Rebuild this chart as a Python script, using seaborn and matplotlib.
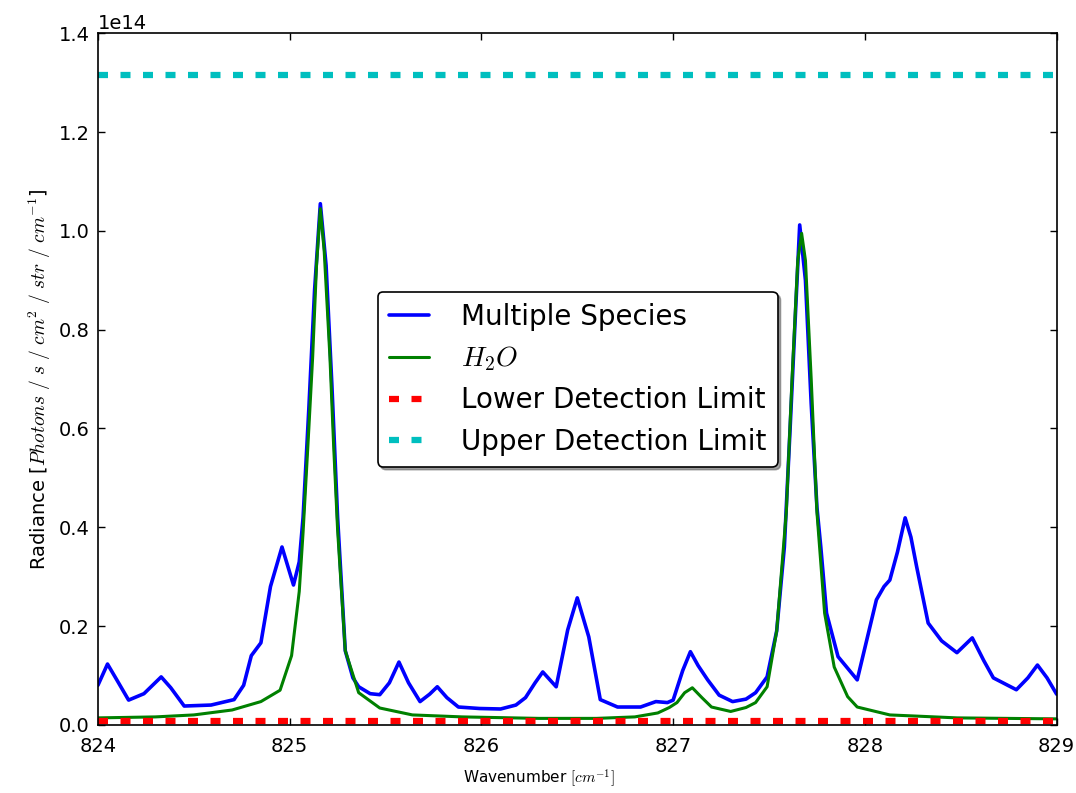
import numpy as np
import pandas as pd
import matplotlib
matplotlib.use("Agg")
import matplotlib.pyplot as plt
import seaborn as sns

# wavenumber [cm^-1] and radiance [1e14 photons/s/cm^2/str/cm^-1]
multi_wn = [824.00, 824.05, 824.10, 824.16, 824.24, 824.33, 824.38, 824.45, 824.59, 824.71,
            824.76, 824.80, 824.85, 824.90, 824.96, 825.02, 825.05, 825.07, 825.10, 825.13,
            825.16, 825.19, 825.22, 825.25, 825.29, 825.33, 825.36, 825.42, 825.47, 825.52,
            825.57, 825.62, 825.68, 825.73, 825.77, 825.82, 825.88, 825.99, 826.10, 826.18,
            826.23, 826.28, 826.32, 826.39, 826.45, 826.50, 826.56, 826.62, 826.71, 826.83,
            826.91, 826.97, 827.00, 827.05, 827.09, 827.13, 827.18, 827.24, 827.31, 827.38,
            827.43, 827.49, 827.54, 827.58, 827.61, 827.64, 827.66, 827.69, 827.72, 827.75,
            827.77, 827.80, 827.86, 827.96, 828.01, 828.06, 828.10, 828.13, 828.17, 828.21,
            828.24, 828.27, 828.33, 828.40, 828.48, 828.56, 828.62, 828.67, 828.79, 828.85,
            828.90, 828.95, 829.00]
multi_rad = [0.080, 0.123, 0.090, 0.050, 0.063, 0.097, 0.075, 0.038, 0.040, 0.051,
             0.080, 0.140, 0.166, 0.280, 0.360, 0.283, 0.330, 0.420, 0.640, 0.880,
             1.055, 0.930, 0.690, 0.420, 0.150, 0.095, 0.077, 0.063, 0.061, 0.085,
             0.127, 0.085, 0.047, 0.062, 0.077, 0.055, 0.036, 0.033, 0.032, 0.040,
             0.055, 0.085, 0.107, 0.077, 0.192, 0.257, 0.178, 0.051, 0.036, 0.036,
             0.047, 0.045, 0.050, 0.110, 0.148, 0.120, 0.091, 0.060, 0.047, 0.052,
             0.065, 0.097, 0.190, 0.360, 0.600, 0.850, 1.012, 0.900, 0.650, 0.440,
             0.360, 0.226, 0.138, 0.091, 0.172, 0.253, 0.280, 0.293, 0.350, 0.419,
             0.380, 0.320, 0.206, 0.170, 0.146, 0.176, 0.130, 0.095, 0.071, 0.095,
             0.121, 0.095, 0.062]

h2o_wn = [824.00, 824.30, 824.50, 824.70, 824.85, 824.95, 825.01, 825.05, 825.07, 825.10,
          825.12, 825.14, 825.16, 825.18, 825.21, 825.23, 825.25, 825.29, 825.36, 825.47,
          825.64, 825.90, 826.30, 826.60, 826.80, 826.92, 826.98, 827.02, 827.06, 827.10,
          827.15, 827.20, 827.30, 827.38, 827.43, 827.49, 827.54, 827.59, 827.62, 827.65,
          827.67, 827.69, 827.72, 827.75, 827.79, 827.84, 827.91, 827.96, 828.13, 828.48,
          829.00]
h2o_rad = [0.014, 0.016, 0.020, 0.030, 0.047, 0.070, 0.140, 0.270, 0.390, 0.600,
           0.745, 0.930, 1.045, 0.960, 0.745, 0.560, 0.395, 0.150, 0.065, 0.034,
           0.020, 0.016, 0.013, 0.013, 0.016, 0.024, 0.035, 0.045, 0.065, 0.075,
           0.055, 0.036, 0.027, 0.035, 0.045, 0.077, 0.190, 0.430, 0.700, 0.940,
           0.995, 0.940, 0.700, 0.430, 0.226, 0.117, 0.057, 0.036, 0.020, 0.014,
           0.012]

lower_limit = 0.008e14
upper_limit = 1.315e14

multi = pd.DataFrame({"wn": multi_wn, "rad": np.array(multi_rad) * 1e14})
h2o = pd.DataFrame({"wn": h2o_wn, "rad": np.array(h2o_rad) * 1e14})

sns.set_style("ticks")
plt.rcParams.update({
    "font.family": ["DejaVu Sans"],
    "mathtext.fontset": "cm",
    "text.color": "black",
    "axes.labelcolor": "black",
    "xtick.color": "black",
    "ytick.color": "black",
    "xtick.direction": "in",
    "ytick.direction": "in",
    "xtick.top": True,
    "ytick.right": True,
    "xtick.labelsize": 14,
    "ytick.labelsize": 14,
    "axes.linewidth": 1.2,
    "axes.edgecolor": "black",
})

fig, ax = plt.subplots(figsize=(10.76, 7.93), dpi=100)
fig.subplots_adjust(left=0.091, right=0.982, bottom=0.086, top=0.958)

sns.lineplot(data=multi, x="wn", y="rad", ax=ax, color="#0000ff", lw=2.6,
             sort=False, label="Multiple Species")
sns.lineplot(data=h2o, x="wn", y="rad", ax=ax, color="#008000", lw=2.2,
             sort=False, label="$H_2O$")
ax.axhline(lower_limit, color="#ff0000", lw=4.5, dashes=(1.6, 2.0),
           label="Lower Detection Limit")
ax.axhline(upper_limit, color="#00bfbf", lw=4.5, dashes=(1.6, 2.0),
           label="Upper Detection Limit")

ax.set_xlim(824, 829)
ax.set_ylim(0, 1.4e14)
ax.set_xticks(np.arange(824, 830, 1))
ax.set_yticks(np.arange(0, 1.41e14, 0.2e14))
ax.tick_params(length=5, width=1)
ax.tick_params(axis="x", pad=9)
ax.tick_params(axis="y", pad=6)

ax.set_xlabel("Wavenumber $[cm^{-1}]$", fontsize=11)
ax.xaxis.set_label_coords(0.46, -0.062)
ax.set_ylabel(r"Radiance [$Photons\ /\ s\ /\ cm^2\ /\ str\ /\ cm^{-1}$]", fontsize=14)

leg = ax.legend(loc="upper left", bbox_to_anchor=(0.292, 0.626), borderaxespad=0,
                fontsize=20, frameon=True, fancybox=True, shadow=True,
                handlelength=1.45, handletextpad=1.15, labelspacing=0.48, borderpad=0.4)
leg.get_frame().set_edgecolor("black")
leg.get_frame().set_linewidth(1.2)
leg.get_frame().set_alpha(1)

fig.savefig("out.png", dpi=100)
